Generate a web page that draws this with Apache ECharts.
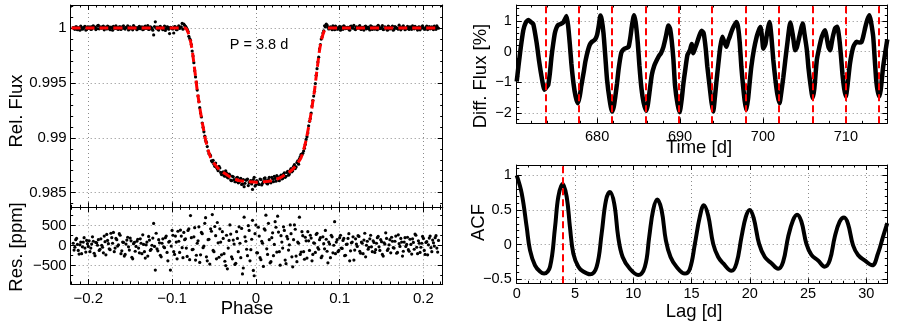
<!DOCTYPE html>
<html><head><meta charset="utf-8">
<script src="https://cdn.jsdelivr.net/npm/echarts@6/dist/echarts.min.js"></script>
<style>html,body{margin:0;padding:0;background:#fff}#c{width:899px;height:334px}</style>
</head><body><div id="c"></div>
<script>
// ---------- data ----------
// folded light curve, first set of samples
const PHASE = [
-0.218,-0.216,-0.214,-0.212,-0.210,-0.208,-0.206,-0.204,-0.202,-0.200,
-0.198,-0.196,-0.194,-0.192,-0.190,-0.188,-0.186,-0.184,-0.182,-0.180,
-0.178,-0.176,-0.174,-0.172,-0.170,-0.168,-0.166,-0.164,-0.162,-0.160,
-0.158,-0.156,-0.154,-0.152,-0.150,-0.148,-0.146,-0.144,-0.142,-0.140,
-0.138,-0.136,-0.134,-0.132,-0.130,-0.128,-0.126,-0.124,-0.122,-0.120,
-0.118,-0.116,-0.114,-0.112,-0.110,-0.108,-0.106,-0.104,-0.102,-0.100,
-0.098,-0.096,-0.094,-0.092,-0.090,-0.088,-0.086,-0.084,-0.082,-0.080,
-0.078,-0.076,-0.074,-0.072,-0.070,-0.068,-0.066,-0.064,-0.062,-0.060,
-0.058,-0.056,-0.054,-0.052,-0.050,-0.048,-0.046,-0.044,-0.042,-0.040,
-0.038,-0.036,-0.034,-0.032,-0.030,-0.028,-0.026,-0.024,-0.022,-0.020,
-0.018,-0.016,-0.014,-0.012,-0.010,-0.008,-0.006,-0.004,-0.002,0.000,
0.002,0.004,0.006,0.008,0.010,0.012,0.014,0.016,0.018,0.020,
0.022,0.024,0.026,0.028,0.030,0.032,0.034,0.036,0.038,0.040,
0.042,0.044,0.046,0.048,0.050,0.052,0.054,0.056,0.058,0.060,
0.062,0.064,0.066,0.068,0.070,0.072,0.074,0.076,0.078,0.080,
0.082,0.084,0.086,0.088,0.090,0.092,0.094,0.096,0.098,0.100,
0.102,0.104,0.106,0.108,0.110,0.112,0.114,0.116,0.118,0.120,
0.122,0.124,0.126,0.128,0.130,0.132,0.134,0.136,0.138,0.140,
0.142,0.144,0.146,0.148,0.150,0.152,0.154,0.156,0.158,0.160,
0.162,0.164,0.166,0.168,0.170,0.172,0.174,0.176,0.178,0.180,
0.182,0.184,0.186,0.188,0.190,0.192,0.194,0.196,0.198,0.200,
0.202,0.204,0.206,0.208,0.210,0.212,0.214,0.216,0.218];

const FLUX = [
1.00003,0.99988,1.00010,0.99992,0.99980,1.00006,0.99995,1.00015,0.99986,1.00002,
1.00012,0.99990,1.00020,1.00008,0.99994,1.00025,1.00010,0.99998,1.00018,1.00005,
0.99992,1.00014,0.99985,1.00003,1.00016,0.99996,1.00007,0.99988,1.00012,0.99999,
1.00020,0.99991,1.00005,0.99983,1.00010,0.99995,1.00022,0.99998,0.99985,1.00009,
0.99994,1.00012,0.99990,1.00018,1.00004,0.99987,1.00011,0.99996,0.99937,1.00057,
1.00008,0.99982,1.00015,0.99995,1.00003,0.99978,1.00012,0.99990,1.00006,0.99994,
0.99955,1.00010,0.99985,1.00020,1.00005,1.00042,1.00036,1.00015,0.99990,0.99925,
0.99890,0.99790,0.99685,0.99555,0.99435,0.99330,0.99225,0.99135,0.99055,0.98975,
0.98920,0.98855,0.98835,0.98780,0.98760,0.98770,0.98715,0.98740,0.98685,0.98670,
0.98655,0.98700,0.98640,0.98670,0.98615,0.98650,0.98620,0.98600,0.98640,0.98595,
0.98630,0.98580,0.98555,0.98615,0.98625,0.98590,0.98610,0.98530,0.98640,0.98570,
0.98600,0.98575,0.98620,0.98585,0.98630,0.98610,0.98580,0.98640,0.98590,0.98625,
0.98650,0.98605,0.98645,0.98610,0.98660,0.98630,0.98680,0.98650,0.98695,0.98670,
0.98720,0.98700,0.98755,0.98735,0.98790,0.98810,0.98850,0.98860,0.98905,0.98985,
0.99045,0.99150,0.99225,0.99340,0.99425,0.99570,0.99690,0.99810,0.99900,0.99955,
1.00020,1.00035,1.00010,0.99995,1.00005,1.00020,0.99985,1.00008,0.99992,1.00015,
1.00002,0.99988,1.00012,0.99996,1.00006,0.99980,1.00018,1.00003,0.99991,1.00010,
0.99998,1.00022,0.99987,1.00005,1.00014,0.99993,1.00008,0.99983,1.00016,1.00001,
0.99990,1.00012,1.00025,0.99995,1.00004,0.99986,1.00010,0.99998,1.00018,0.99992,
1.00007,0.99981,1.00013,1.00002,0.99989,1.00009,0.99996,1.00020,0.99985,1.00006,
0.99994,1.00011,0.99988,1.00003,1.00015,0.99997,1.00008,0.99984,1.00012,1.00000,
0.99991,1.00017,1.00004,0.99993,1.00010,0.99986,1.00006,1.00019,0.99998];

const RESID_PPM = [
60,-40,180,-120,20,-200,90,-60,130,-20,
-150,40,110,-250,70,150,-90,10,-180,100,
280,50,-100,200,330,-60,150,20,260,-130,
80,-220,140,-30,190,-290,50,-140,110,-60,
170,-200,30,-310,90,230,-120,10,556,-611,
-80,150,-240,60,-30,200,-170,90,-611,380,
-150,240,-330,110,390,-50,330,170,-270,420,
754,-100,220,-360,60,470,-230,300,-10,700,
-380,160,420,778,-150,250,580,-290,90,350,
-200,-500,-580,130,290,-330,40,-440,180,470,
-300,-707,714,110,-250,380,-100,635,-754,516,
-180,240,-350,60,420,762,-220,150,-400,320,
30,460,738,-150,250,-60,380,-450,170,20,
300,-530,520,-260,90,714,-160,250,-340,120,
350,-120,190,-220,60,280,-50,150,-300,220,
-80,160,-430,40,260,-180,600,90,-150,200,
-60,130,-250,30,180,-380,70,220,-110,40,
250,-140,90,-200,310,10,-90,170,-30,120,
-170,60,230,-120,100,-260,40,180,-80,150,
210,-50,110,-190,270,-20,90,-140,200,30,
-100,160,-210,80,290,-40,120,-170,60,180,
-220,100,20,240,-150,70,200,-60,130];

// folded light curve, second (interleaved) set of samples
const PHASE_B = [
-0.217,-0.215,-0.213,-0.211,-0.209,-0.207,-0.205,-0.203,-0.201,-0.199,
-0.197,-0.195,-0.193,-0.191,-0.189,-0.187,-0.185,-0.183,-0.181,-0.179,
-0.177,-0.175,-0.173,-0.171,-0.169,-0.167,-0.165,-0.163,-0.161,-0.159,
-0.157,-0.155,-0.153,-0.151,-0.149,-0.147,-0.145,-0.143,-0.141,-0.139,
-0.137,-0.135,-0.133,-0.131,-0.129,-0.127,-0.125,-0.123,-0.121,-0.119,
-0.117,-0.115,-0.113,-0.111,-0.109,-0.107,-0.105,-0.103,-0.101,-0.099,
-0.097,-0.095,-0.093,-0.091,-0.089,-0.087,-0.085,-0.083,-0.081,-0.079,
-0.077,-0.075,-0.073,-0.071,-0.069,-0.067,-0.065,-0.063,-0.061,-0.059,
-0.057,-0.055,-0.053,-0.051,-0.049,-0.047,-0.045,-0.043,-0.041,-0.039,
-0.037,-0.035,-0.033,-0.031,-0.029,-0.027,-0.025,-0.023,-0.021,-0.019,
-0.017,-0.015,-0.013,-0.011,-0.009,-0.007,-0.005,-0.003,-0.001,0.001,
0.003,0.005,0.007,0.009,0.011,0.013,0.015,0.017,0.019,0.021,
0.023,0.025,0.027,0.029,0.031,0.033,0.035,0.037,0.039,0.041,
0.043,0.045,0.047,0.049,0.051,0.053,0.055,0.057,0.059,0.061,
0.063,0.065,0.067,0.069,0.071,0.073,0.075,0.077,0.079,0.081,
0.083,0.085,0.087,0.089,0.091,0.093,0.095,0.097,0.099,0.101,
0.103,0.105,0.107,0.109,0.111,0.113,0.115,0.117,0.119,0.121,
0.123,0.125,0.127,0.129,0.131,0.133,0.135,0.137,0.139,0.141,
0.143,0.145,0.147,0.149,0.151,0.153,0.155,0.157,0.159,0.161,
0.163,0.165,0.167,0.169,0.171,0.173,0.175,0.177,0.179,0.181,
0.183,0.185,0.187,0.189,0.191,0.193,0.195,0.197,0.199,0.201,
0.203,0.205,0.207,0.209,0.211,0.213,0.215,0.217];

const FLUX_B = [
0.99995,1.00012,0.99985,1.00005,1.00018,0.99990,1.00008,0.99982,1.00010,0.99997,
0.99988,1.00015,1.00002,0.99986,1.00020,0.99993,1.00006,1.00013,0.99984,1.00009,
1.00017,0.99995,1.00008,0.99980,1.00004,1.00021,0.99991,1.00011,0.99987,1.00014,
0.99996,1.00006,1.00019,0.99989,1.00002,0.99984,1.00012,1.00005,0.99993,1.00016,
1.00003,0.99985,1.00010,0.99996,1.00022,0.99990,1.00007,0.99981,1.00014,0.99998,
0.99988,1.00011,1.00003,0.99985,1.00018,0.99996,1.00009,0.99950,1.00004,0.99992,
1.00013,0.99986,1.00006,0.99997,1.00010,0.99990,1.00025,1.00005,0.99970,0.99905,
0.99850,0.99745,0.99610,0.99505,0.99380,0.99275,0.99190,0.99095,0.99015,0.98960,
0.98880,0.98850,0.98790,0.98795,0.98740,0.98730,0.98700,0.98725,0.98665,0.98690,
0.98650,0.98680,0.98635,0.98660,0.98610,0.98645,0.98600,0.98635,0.98590,0.98625,
0.98575,0.98620,0.98585,0.98615,0.98565,0.98605,0.98580,0.98620,0.98560,0.98610,
0.98580,0.98625,0.98570,0.98600,0.98635,0.98585,0.98620,0.98595,0.98640,0.98600,
0.98630,0.98655,0.98615,0.98645,0.98625,0.98670,0.98640,0.98685,0.98660,0.98705,
0.98690,0.98740,0.98720,0.98775,0.98760,0.98830,0.98845,0.98880,0.98940,0.99010,
0.99110,0.99175,0.99290,0.99380,0.99495,0.99630,0.99735,0.99850,0.99920,0.99975,
1.00010,1.00028,0.99992,1.00012,0.99985,1.00006,1.00018,0.99990,1.00004,0.99981,
1.00011,1.00021,0.99995,1.00007,0.99988,1.00015,0.99998,1.00024,0.99986,1.00003,
1.00013,0.99991,1.00006,0.99982,1.00017,1.00000,0.99994,1.00020,0.99987,1.00009,
1.00002,0.99985,1.00014,0.99996,1.00023,0.99990,1.00005,0.99981,1.00012,0.99997,
1.00018,0.99989,1.00007,0.99995,1.00026,0.99984,1.00010,1.00001,0.99992,1.00015,
0.99987,1.00006,1.00019,0.99993,1.00004,0.99982,1.00012,0.99998,1.00021,0.99990,
1.00009,0.99986,1.00014,1.00001,0.99993,1.00017,0.99988,1.00005];

const RESID_PPM_B = [
-110,150,30,-210,90,-30,200,-160,50,120,
-60,220,-190,80,10,-120,170,-40,240,-230,
130,-80,310,60,-150,180,-10,300,-200,90,
-260,40,210,-110,120,-330,80,-20,160,-180,
60,270,-150,20,-260,140,-90,190,-20,310,
-130,70,-280,170,-50,240,-380,110,-10,260,
-220,90,360,-170,240,-300,150,-60,380,-350,
200,-90,450,-240,120,-420,330,-50,560,-280,
150,-460,360,-120,480,-330,70,420,-230,180,
-390,260,-60,520,-280,140,-470,350,-150,60,
430,-560,220,-90,500,-380,160,-620,300,-180,
460,-300,110,-520,390,-80,560,-430,200,-250,
600,-160,340,-490,90,470,-360,230,-110,520,
-280,150,410,-400,60,-220,350,-150,210,-310,
120,260,-380,70,-170,310,-90,200,-260,50,
380,-140,90,-300,220,10,-200,150,-120,260,
-70,180,-240,40,300,-130,90,-360,170,-20,
230,-190,60,140,-280,110,-40,260,-150,80,
-100,200,-30,150,-220,70,320,-120,20,-180,
110,-60,240,-170,50,180,-260,90,-20,210,
-140,30,170,-90,260,-200,60,-40,230,-120,
80,-230,190,-50,140,-10,250,-160];

// transit model (red dashed)
const MODEL_PHASE = [-0.22,-0.084,-0.082,-0.080,-0.078,-0.076,-0.074,-0.072,-0.070,-0.068,-0.066,-0.064,-0.062,-0.060,-0.057,-0.054,-0.050,-0.046,-0.042,-0.036,-0.030,-0.020,-0.010,0,
0.010,0.020,0.030,0.036,0.042,0.046,0.050,0.054,0.057,0.060,0.062,0.064,0.066,0.068,0.070,0.072,0.074,0.076,0.078,0.080,0.082,0.084,0.22];
const MODEL_FLUX = [1,1,0.9998,0.9994,0.9988,0.9980,0.9968,0.9956,0.9943,0.9933,0.9923,0.9914,0.9906,0.9898,0.9889,0.9882,0.9877,0.9873,0.9870,0.9867,0.9864,0.9861,0.9860,0.98595,
0.9860,0.9861,0.9864,0.9867,0.9870,0.9873,0.9877,0.9882,0.9889,0.9898,0.9906,0.9914,0.9923,0.9933,0.9943,0.9956,0.9968,0.9980,0.9988,0.9994,0.9998,1,1];

// differential flux time series
const TIME = [670.3,670.7,671.1,671.4,671.7,672.0,672.3,672.7,673.0,673.3,673.65,673.9,674.1,674.3,674.5,674.7,674.9,675.1,675.3,675.6,675.9,676.1,676.3,676.5,676.7,676.9,677.15,677.4,677.67,677.9,
678.1,678.36,678.6,678.9,679.1,679.36,679.6,679.8,680.0,680.2,680.4,680.55,680.77,681.0,681.2,681.5,681.8,682.0,682.2,682.4,682.6,682.9,683.1,683.3,683.6,683.8,684.0,684.2,684.45,684.65,
684.9,685.1,685.35,685.6,685.9,686.1,686.35,686.6,686.9,687.2,687.5,687.7,688.0,688.3,688.6,688.8,689.0,689.2,689.4,689.7,689.95,690.2,690.4,690.6,690.9,691.2,691.4,691.6,691.8,692.0,
692.3,692.6,692.85,693.1,693.3,693.6,693.8,694.0,694.2,694.4,694.6,694.85,695.1,695.3,695.6,695.8,696.0,696.2,696.45,696.8,697.0,697.2,697.4,697.6,697.8,698.0,698.2,698.4,698.6,698.9,
699.25,699.5,699.7,699.9,700.05,700.3,700.5,700.8,701.0,701.25,701.5,701.75,702.0,702.2,702.45,702.7,703.0,703.3,703.6,703.9,704.1,704.4,704.8,705.0,705.3,705.5,705.75,706.0,706.2,706.5,
706.8,707.1,707.5,707.7,707.9,708.1,708.4,708.7,708.95,709.2,709.4,709.6,709.8,710.0,710.2,710.5,710.9,711.3,711.6,711.9,712.1,712.35,712.6,712.85,713.05,713.3,713.5,713.7,714.0,714.2,
714.5,714.8,715.0];
const DIFF_FLUX = [-0.97,-0.05,0.70,0.95,1.03,0.97,0.90,0.30,-0.30,-0.81,-1.24,-1.15,-1.08,-0.70,-0.16,0.25,0.60,0.78,0.87,0.90,0.95,1.05,1.16,0.85,0.27,-0.40,-1.03,-1.45,-1.68,-1.45,
-1.10,-0.70,-0.30,0.05,0.22,0.32,0.36,0.42,0.55,0.85,1.18,1.05,0.60,-0.20,-0.92,-1.55,-1.95,-1.80,-1.45,-1.03,-0.55,-0.05,0.05,0.10,0.13,0.16,0.45,0.85,1.19,0.95,
0.30,-0.45,-1.20,-1.65,-1.92,-1.75,-1.25,-0.75,-0.45,-0.27,-0.12,-0.05,0.16,0.50,0.85,0.75,0.35,-0.25,-1.10,-1.70,-1.97,-1.55,-1.05,-0.65,-0.10,0.05,0.25,-0.05,0.10,0.25,
0.50,0.68,0.60,0.10,-0.50,-1.20,-1.65,-1.95,-1.50,-0.95,-0.45,0.15,0.49,0.35,0.16,0.35,0.49,0.65,0.81,0.97,0.80,0.30,-0.50,-1.10,-1.60,-1.90,-1.55,-1.00,-0.49,0.05,
0.49,0.70,0.80,0.45,0.10,0.25,0.60,0.97,0.55,-0.27,-0.90,-1.40,-1.68,-1.35,-0.85,-0.27,0.40,0.95,0.55,0.05,0.15,0.50,0.92,0.60,0.05,-0.55,-1.10,-1.51,-1.20,-0.27,
0.15,0.49,0.70,0.45,0.16,0.05,0.45,0.76,0.81,0.45,-0.10,-0.75,-1.20,-1.46,-1.10,-0.38,0.16,0.32,0.30,0.32,0.50,0.80,1.05,1.19,0.95,0.49,-0.30,-1.03,-1.46,-1.25,
-0.49,0.05,0.40];
const PERIOD_MARKS = [673.80,677.80,681.82,685.84,689.85,693.88,697.90,701.93,705.95,709.97,713.98];

// autocorrelation function
const LAG = [0,0.43,0.86,1.14,1.57,2.0,2.35,2.86,3.29,3.57,3.94,4.29,4.57,4.86,5.29,5.71,6.3,6.86,7.29,7.66,8.0,8.37,8.71,9.09,9.71,10.43,11.0,11.37,11.71,12.06,12.43,12.8,13.2,13.71,14.43,14.86,15.29,15.71,16.06,16.43,16.86,17.29,17.71,18.43,18.86,19.29,19.66,20.0,20.34,20.8,21.29,21.86,22.43,22.86,23.29,23.71,24.06,24.43,24.86,25.29,25.86,26.43,26.86,27.29,27.71,28.09,28.43,28.86,29.29,29.86,30.51,31.0,31.43,31.8];
const ACF = [1.0,0.74,0.25,-0.08,-0.30,-0.39,-0.42,-0.32,0.25,0.69,0.88,0.69,0.25,-0.13,-0.32,-0.39,-0.43,-0.32,0.16,0.64,0.76,0.59,0.11,-0.18,-0.35,-0.44,-0.32,0.11,0.50,0.65,0.50,0.06,-0.18,-0.32,-0.42,-0.35,0.01,0.40,0.57,0.42,0.01,-0.18,-0.27,-0.38,-0.27,0.11,0.40,0.50,0.38,0.01,-0.18,-0.27,-0.35,-0.25,0.11,0.35,0.43,0.33,0.01,-0.15,-0.23,-0.32,-0.23,0.11,0.33,0.39,0.30,-0.01,-0.15,-0.23,-0.30,-0.13,0.11,0.31];
const ACF_PEAK_LAG = 3.95;

// tick labels and texts
const PHASE_TICKS = [-0.2,-0.1,0,0.1,0.2];
const FLUX_TICKS = [0.985,0.99,0.995,1];
const RES_TICKS = [-500,0,500];
const TIME_TICKS = [680,690,700,710];
const DIFF_TICKS = [-2,-1,0,1];
const LAG_TICKS = [0,5,10,15,20,25,30];
const ACF_TICKS = [-0.5,0,0.5,1];
const PERIOD_LABEL = 'P = 3.8 d';
const AXIS_TITLES = ['Rel. Flux', 'Res. [ppm]', 'Phase', 'Diff. Flux [%]', 'Time [d]', 'ACF', 'Lag [d]'];

// ---------- chart ----------
const FONT = '"Liberation Sans", Arial, Helvetica, sans-serif';
const fmt = v => (Math.round(v * 1e6) / 1e6).toString().replace('-', '\u2212');
function minorList(min, max, step, majors) {
  const out = [];
  for (let k = Math.ceil(min / step - 1e-9); k * step <= max + 1e-9; k++) {
    const v = Math.round(k * step * 1e6) / 1e6;
    if (!majors.some(m => Math.abs(m - v) < step * 1e-3)) out.push(v);
  }
  return out;
}
const xAxes = [], yAxes = [];
function addAxes(dim, grid, cfg) {
  const list = dim === 'x' ? xAxes : yAxes;
  const pos = dim === 'x' ? ['bottom', 'top'] : ['left', 'right'];
  const minors = minorList(cfg.min, cfg.max, cfg.minor, cfg.ticks);
  const tickLine = {color: '#000', width: 1};
  const primaryIndex = list.length;
  list.push({
    type: 'value', gridIndex: grid, position: pos[0], min: cfg.min, max: cfg.max,
    axisLine: {show: true, onZero: false, lineStyle: {color: '#000', width: 1}},
    axisTick: {show: true, inside: true, length: 5, customValues: cfg.ticks, lineStyle: tickLine},
    axisLabel: {show: !!cfg.labels, customValues: cfg.ticks, formatter: fmt, color: '#000',
      fontSize: cfg.fs || 15, fontFamily: FONT, margin: cfg.margin || 4, hideOverlap: false},
    splitLine: {show: true, lineStyle: {color: '#8a8a8a', type: [1, 3], width: 1}}
  });
  list.push({
    type: 'value', gridIndex: grid, position: pos[1], min: cfg.min, max: cfg.max,
    axisLine: {show: true, onZero: false, lineStyle: {color: '#000', width: 1}},
    axisTick: {show: true, inside: true, length: 5, customValues: cfg.ticks, lineStyle: tickLine},
    axisLabel: {show: false}, splitLine: {show: false}
  });
  for (const p of pos) {
    list.push({
      type: 'value', gridIndex: grid, position: p, min: cfg.min, max: cfg.max,
      axisLine: {show: false, onZero: false},
      axisTick: {show: true, inside: true, length: 2.5, customValues: minors, lineStyle: tickLine},
      axisLabel: {show: false}, splitLine: {show: false}
    });
  }
  return primaryIndex;
}

const grids = [
  {left: 70.7, top: 5, width: 372, height: 202.3},
  {left: 70.7, top: 207.3, width: 372, height: 76.7},
  {left: 516.7, top: 5, width: 370.6, height: 118.3},
  {left: 516.7, top: 165, width: 370.6, height: 118.3}
];

const x0 = addAxes('x', 0, {min: -0.221, max: 0.223, ticks: PHASE_TICKS, minor: 0.01, labels: false});
const y0 = addAxes('y', 0, {min: 0.98367, max: 1.0021, ticks: FLUX_TICKS, minor: 0.001, labels: true});
const x1 = addAxes('x', 1, {min: -0.221, max: 0.223, ticks: PHASE_TICKS, minor: 0.01, labels: true, margin: 7});
const y1 = addAxes('y', 1, {min: -960, max: 960, ticks: RES_TICKS, minor: 250, labels: true});
const x2 = addAxes('x', 2, {min: 670.3, max: 715, ticks: TIME_TICKS, minor: 2, labels: true, fs: 14.5, margin: 6});
const y2 = addAxes('y', 2, {min: -2.33, max: 1.52, ticks: DIFF_TICKS, minor: 0.2, labels: true, fs: 14.5, margin: 5});
const x3 = addAxes('x', 3, {min: 0, max: 31.8, ticks: LAG_TICKS, minor: 1, labels: true, fs: 14.5, margin: 3});
const y3 = addAxes('y', 3, {min: -0.56, max: 1.15, ticks: ACF_TICKS, minor: 0.1, labels: true, fs: 14.5, margin: 5});

// axis titles placed where the reference puts them: [x, y, rotated]
const TITLE_POS = [[16.5, 111, true], [16.5, 247, true], [247, 309, false], [480.5, 76, true], [699, 147.5, false], [479, 222.5, true], [694, 312, false]];
function titleText(text, p) {
  return {type: 'text', x: p[0], y: p[1], rotation: p[2] ? Math.PI / 2 : 0, z: 10,
    style: {text, fontSize: 18.5, fontFamily: FONT, fill: '#000', align: 'center', verticalAlign: 'middle'}};
}

const dot = {color: '#000', opacity: 1};
const redDash = {color: '#ff0000', type: [7, 4], width: 2};
const option = {
  animation: false,
  backgroundColor: '#fff',
  grid: grids,
  xAxis: xAxes,
  yAxis: yAxes,
  series: [
    {type: 'scatter', xAxisIndex: x0, yAxisIndex: y0, symbolSize: 3.2, itemStyle: dot, clip: true,
      data: PHASE.map((p, i) => [p, FLUX[i]])},
    {type: 'scatter', xAxisIndex: x0, yAxisIndex: y0, symbolSize: 3.2, itemStyle: dot, clip: true,
      data: PHASE_B.map((p, i) => [p, FLUX_B[i]])},
    {type: 'line', xAxisIndex: x0, yAxisIndex: y0, showSymbol: false, smooth: 0.2,
      lineStyle: {color: '#ff0000', width: 3, type: [9, 5]},
      data: MODEL_PHASE.map((p, i) => [p, MODEL_FLUX[i]]), z: 3},
    {type: 'scatter', xAxisIndex: x1, yAxisIndex: y1, symbolSize: 3.2, itemStyle: dot, clip: true,
      data: PHASE.map((p, i) => [p, RESID_PPM[i]])},
    {type: 'scatter', xAxisIndex: x1, yAxisIndex: y1, symbolSize: 3.2, itemStyle: dot, clip: true,
      data: PHASE_B.map((p, i) => [p, RESID_PPM_B[i]])},
    {type: 'line', xAxisIndex: x2, yAxisIndex: y2, showSymbol: false, smooth: 0.2, clip: true,
      lineStyle: {color: '#000', width: 4.5},
      data: TIME.map((t, i) => [t, DIFF_FLUX[i]]),
      markLine: {silent: true, symbol: ['none', 'none'], label: {show: false}, lineStyle: redDash,
        data: PERIOD_MARKS.map(t => ({xAxis: t}))}},
    {type: 'line', xAxisIndex: x3, yAxisIndex: y3, showSymbol: false, smooth: 0.4, clip: true,
      lineStyle: {color: '#000', width: 4},
      data: LAG.map((l, i) => [l, ACF[i]]),
      markLine: {silent: true, symbol: ['none', 'none'], label: {show: false}, lineStyle: redDash,
        data: [{xAxis: ACF_PEAK_LAG}]}}
  ],
  graphic: [
    {type: 'text', x: 259, y: 45, z: 10,
      style: {text: PERIOD_LABEL, fontSize: 14.5, fontFamily: FONT, fill: '#000', align: 'center', verticalAlign: 'middle'}}
  ].concat(AXIS_TITLES.map((t, i) => titleText(t, TITLE_POS[i])))
};
const chart = echarts.init(document.getElementById('c'), null, {renderer: 'canvas'});
chart.setOption(option);
</script>
</body></html>
